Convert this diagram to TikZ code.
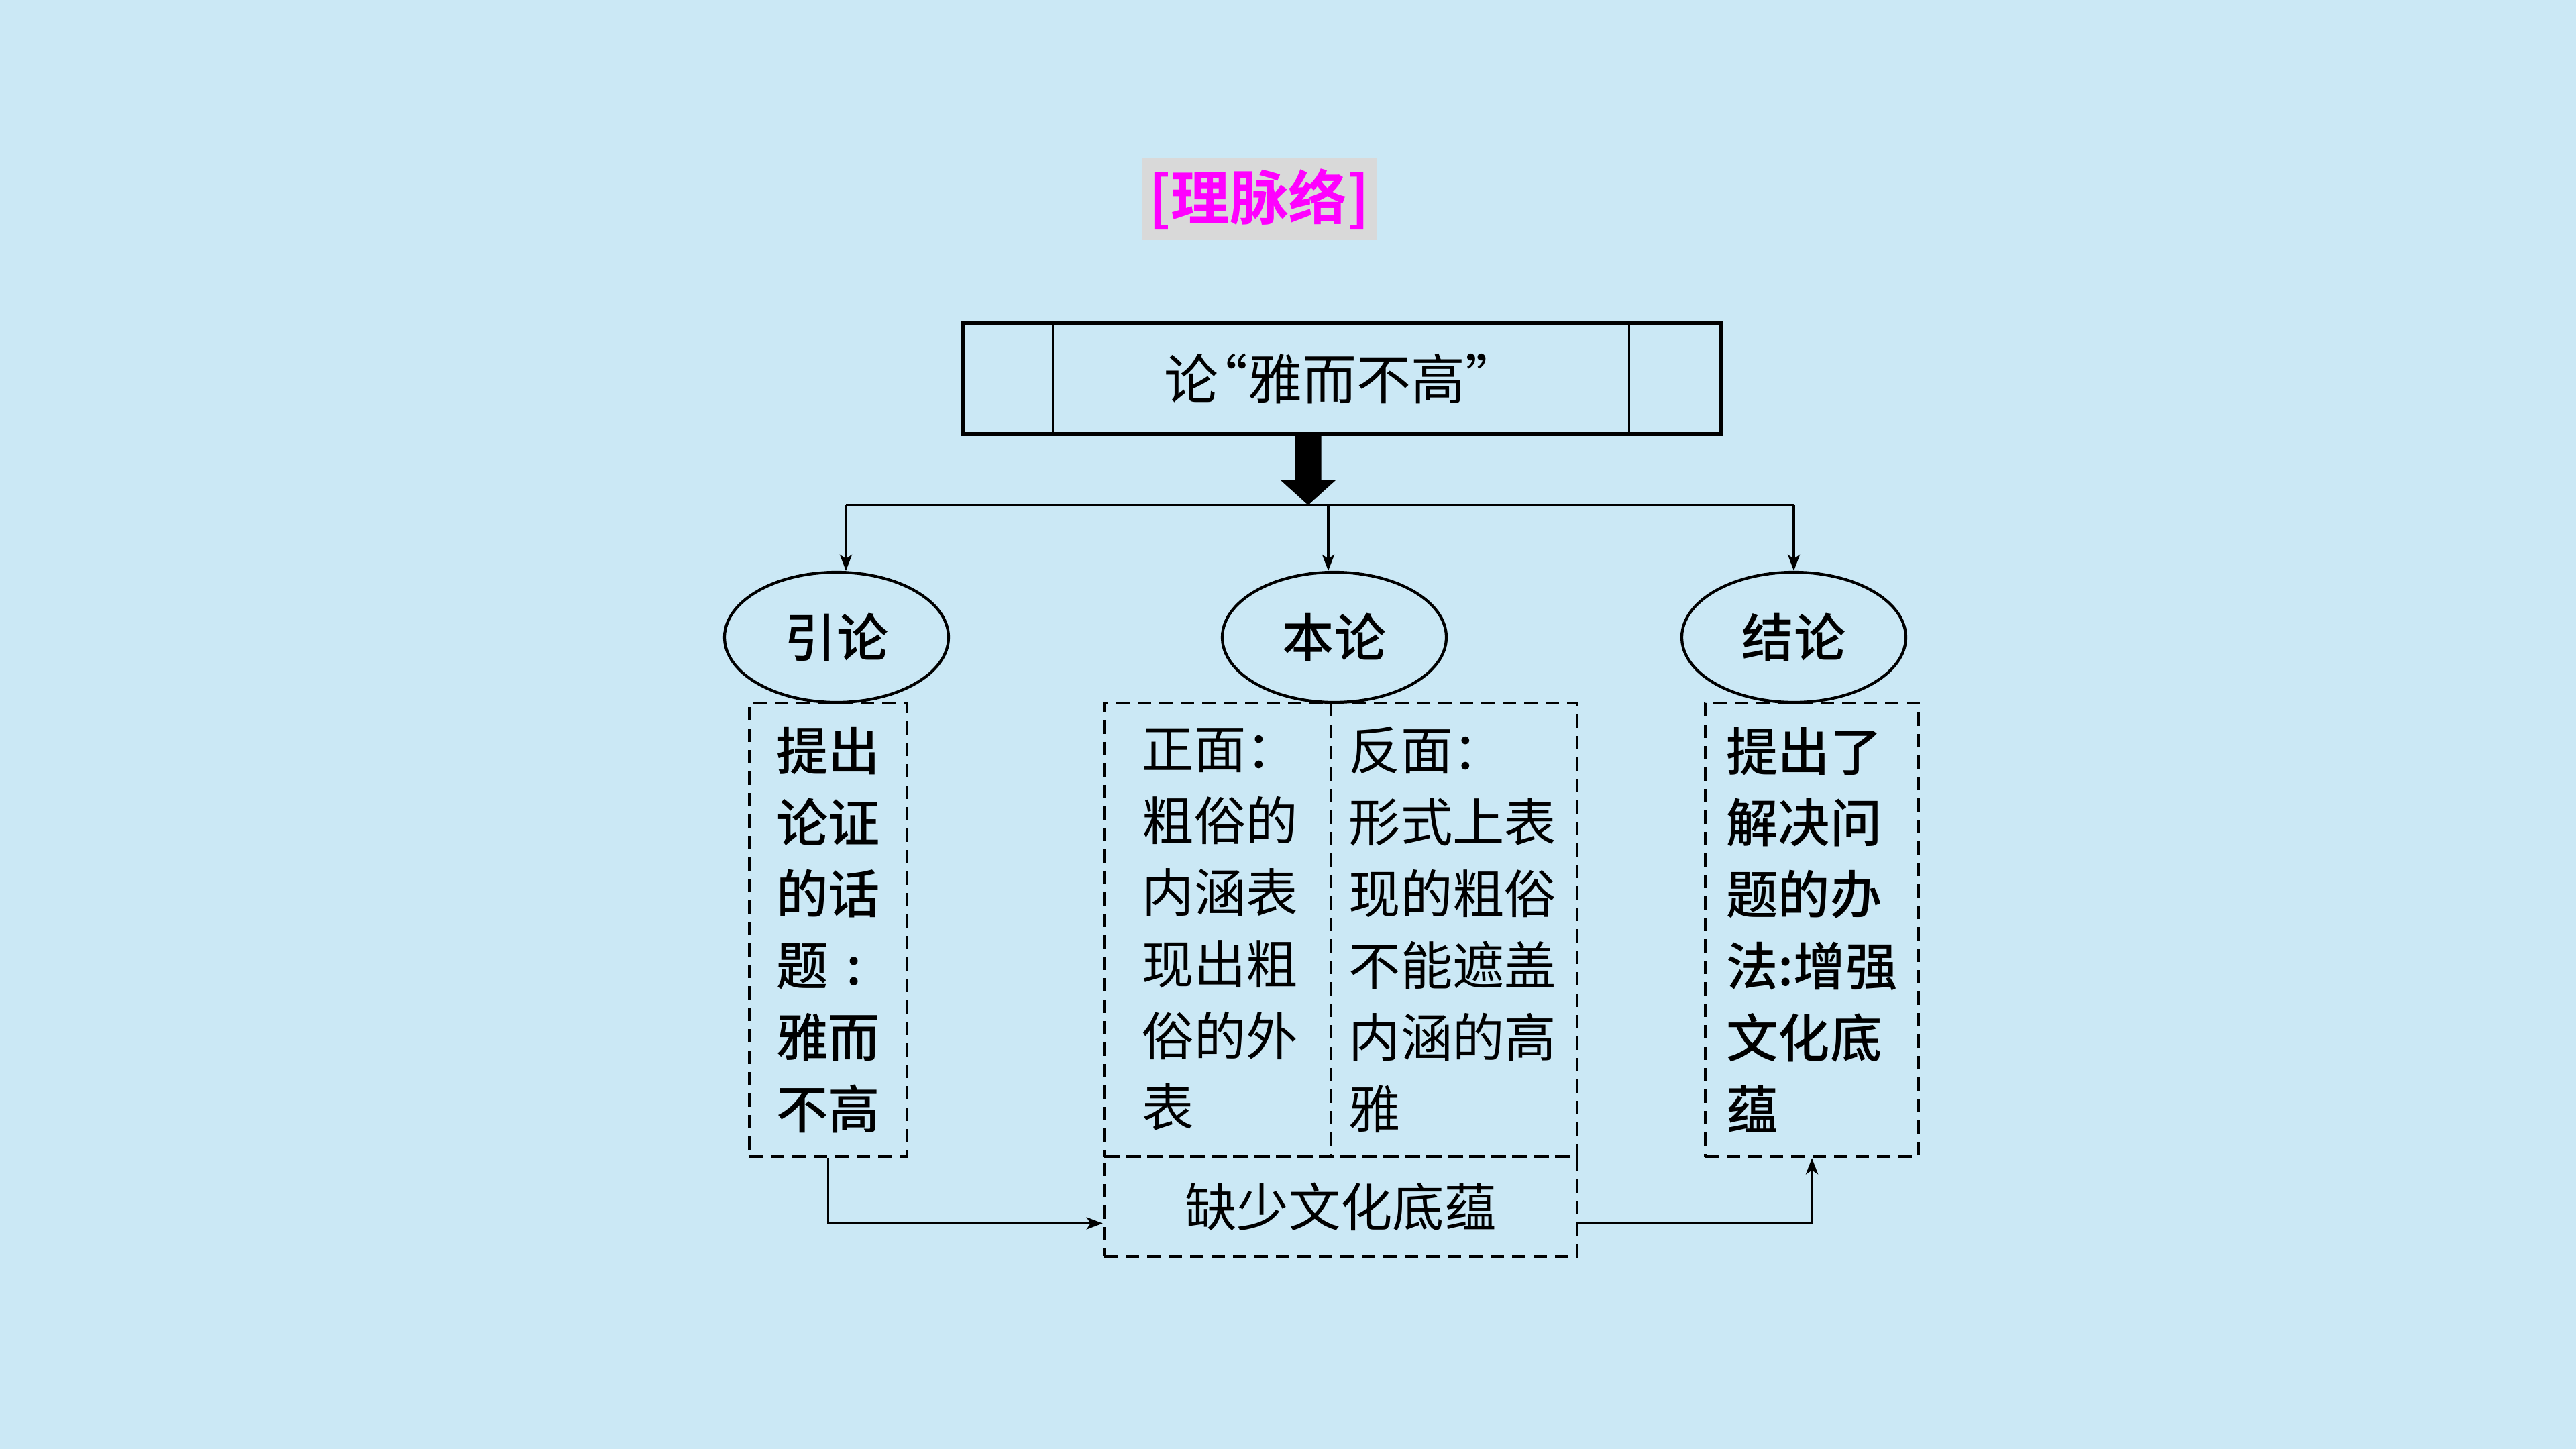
\documentclass[tikz,border=0pt]{standalone}
\usepackage{fontspec}
\setmainfont{Noto Sans CJK SC}[BoldFont={Noto Sans CJK SC Medium}]
\newfontfamily\heavyfont{Noto Sans CJK SC Bold}
\usepackage{tikz}
\usetikzlibrary{arrows.meta,positioning,calc,shapes}
\definecolor{paper}{RGB}{203,232,245}
\definecolor{taggray}{RGB}{217,217,217}
\definecolor{tagpink}{RGB}{255,0,255}
\tikzset{
  tag/.style={rectangle,fill=taggray,minimum width=35mm,minimum height=12.2mm,inner sep=0pt,text=tagpink,font=\heavyfont\fontsize{25pt}{28pt}\selectfont},
  topic/.style={rectangle,draw,line width=1.7pt,minimum width=112.9mm,minimum height=16.5mm,inner sep=0pt,font=\fontsize{23pt}{26pt}\selectfont},
  part/.style={ellipse,draw,line width=1.2pt,minimum width=33.4mm,minimum height=19.4mm,inner sep=0pt,font=\bfseries\fontsize{22pt}{26pt}\selectfont},
  notebox/.style={rectangle,draw,line width=1.3pt,dash pattern=on 2mm off 1.2mm,minimum height=67.6mm,inner sep=0pt,align=left,font=\bfseries\fontsize{22pt}{30.4pt}\selectfont},
  notetext/.style={inner sep=0pt,align=left,anchor=west,font=\fontsize{22pt}{30.4pt}\selectfont},
  link/.style={line width=1.1pt,-{Stealth[length=2.4mm,width=1.8mm,inset=0.6mm]}},
  bigarrow/.style={line width=3.9mm,-{Triangle[length=3.8mm,width=8.4mm,line width=0pt]}}
}

\begin{document}
\begin{tikzpicture}
  \fill[paper] (0,0) rectangle (38.4,-21.6);
  \useasboundingbox (0,0) rectangle (38.4,-21.6);

  \node[tag] (head) at (18.77,-2.97) {[理脉络]};

  \node[topic] (topic) at (20.0,-5.645) {论\kern-0.45em“雅而不高”};
  \draw[line width=1.1pt] ($(topic.north west)+(1.37,0)$) -- ($(topic.south west)+(1.37,0)$);
  \draw[line width=1.1pt] ($(topic.north east)+(-1.39,0)$) -- ($(topic.south east)+(-1.39,0)$);

  \coordinate (split) at (19.5,-7.53);
  \draw[bigarrow] ($(topic.south)+(-0.5,0)$) -- (split);

  \node[part] (yin) at (12.47,-9.50) {引论};
  \node[part] (ben) at (19.89,-9.50) {本论};
  \node[part] (jie) at (26.74,-9.50) {结论};

  \draw[line width=1.3pt] (split) -- ([xshift=1.4mm]split -| yin);
  \draw[line width=1.3pt] (split) -- (split -| jie);
  \draw[link] ([xshift=1.4mm]split -| yin) -- ([xshift=1.4mm]yin.north);
  \draw[link] ([xshift=-0.9mm]split -| ben) -- ([xshift=-0.9mm]ben.north);
  \draw[link] (split -| jie) -- (jie);

  \node[notebox, minimum width=23.5mm] (yinbox) at (12.345,-13.86)
    {提出\\论证\\的话\\题\makebox[1em]{:}\\雅而\\不高};

  % 本论: one dashed box, split in two columns
  \node[notebox, minimum width=70.5mm] (benbox) at (19.985,-13.86) {};
  \draw[line width=1pt, dash pattern=on 2mm off 1.2mm] (19.84,-10.48) -- (19.84,-17.24);
  \node[notetext] (zheng) at (17.02,-13.86)
    {正面：\\粗俗的\\内涵表\\现出粗\\俗的外\\表};
  \node[notetext] (fan) at (20.10,-13.86)
    {反面：\\形式上表\\现的粗俗\\不能遮盖\\内涵的高\\雅};

  \node[notebox, minimum width=31.8mm] (jiebox) at (27.01,-13.86)
    {提出了\\解决问\\题的办\\法:增强\\文化底\\蕴};

  \node[notebox, minimum width=70.5mm, minimum height=14.9mm, align=center, font=\fontsize{22pt}{26pt}\selectfont] (que) at (19.985,-17.985) {缺少文化底蕴};

  \draw[link] (yinbox.south) |- ([yshift=-2.5mm]que.west);
  \draw[link] ([yshift=-2.5mm]que.east) -| (jiebox.south);
\end{tikzpicture}
\end{document}
